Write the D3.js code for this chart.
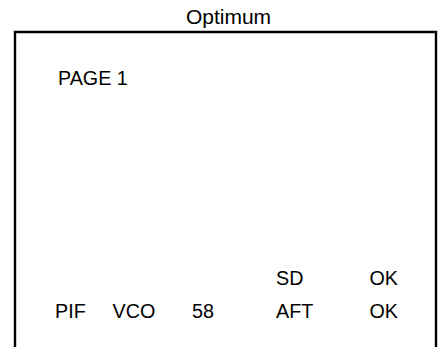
<!DOCTYPE html>
<html><head><meta charset="utf-8">
<script src="https://cdn.jsdelivr.net/npm/d3@7"></script>
<style>body{margin:0;background:#fff}svg{display:block}</style>
</head><body>
<script>
const title = "Optimum";
const header = ["PAGE 1"];
const row1 = ["", "", "", "SD", "OK"];
const row2 = ["PIF", "VCO", "58", "AFT", "OK"];
const columns = ["c0", "c1", "c2", "c3", "c4"];

const W = 442, H = 347;
const svg = d3.select("body").append("svg").attr("width", W).attr("height", H);
const font = "'Liberation Sans', Arial, sans-serif";
const fs = 21, sx = 0.94;

const xCol = d3.scaleOrdinal().domain(columns).range([55, 112.5, 192, 276, 369.5]);
const yRow = d3.scaleOrdinal().domain(["header", "r1", "r2"]).range([84.5, 284.5, 318]);

svg.append("text").attr("x", 228.5).attr("y", 24).attr("text-anchor", "middle")
  .attr("font-family", font).attr("font-size", 21).attr("fill", "#000").text(title);

svg.append("path").attr("d", `M15,${H + 5}V32H436V${H + 5}`)
  .attr("fill", "none").attr("stroke", "#000").attr("stroke-width", 2.4);

svg.append("text")
  .attr("transform", `translate(${xCol("c0") + 3},${yRow("header")}) scale(${sx},1)`)
  .attr("font-family", font).attr("font-size", fs).attr("fill", "#000").text(header[0]);

const cells = [];
row1.forEach((t, i) => { if (t) cells.push({t, c: columns[i], r: "r1"}); });
row2.forEach((t, i) => { if (t) cells.push({t, c: columns[i], r: "r2"}); });

svg.selectAll("text.cell").data(cells).join("text").attr("class", "cell")
  .attr("transform", d => `translate(${xCol(d.c)},${yRow(d.r)}) scale(${sx},1)`)
  .attr("font-family", font).attr("font-size", fs).attr("fill", "#000")
  .text(d => d.t);
</script>
</body></html>
